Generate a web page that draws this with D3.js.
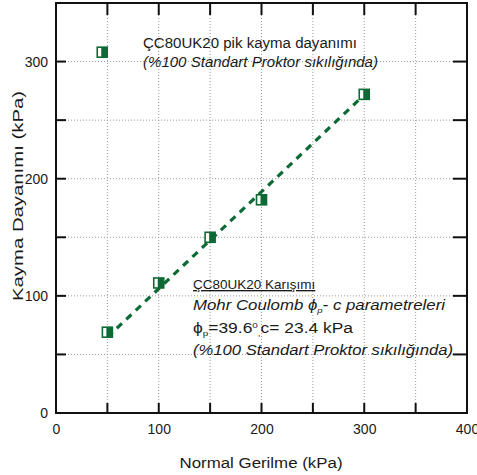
<!DOCTYPE html>
<html>
<head>
<meta charset="utf-8">
<script src="https://cdn.jsdelivr.net/npm/d3@7"></script>
<style>
  body { margin: 0; background: #fff; }
  svg text { font-family: "Liberation Sans", Arial, sans-serif; fill: #1a1a1a; }
</style>
</head>
<body>
<svg id="chart" width="477" height="475"></svg>
<script>
// Direct shear test results: normal stress vs. shear strength (kPa)
const normalStress = [50, 100, 150, 200, 300];
const shearStrength = [69, 111, 150, 182, 272];
// Peak shear strength point shown at the top-left
const peakPoint = [45, 308];
// Mohr-Coulomb fit parameters
const cohesion = 23.4;
const frictionAngle = 39.6;
const fitRange = [50, 300];
const xTicks = [0, 100, 200, 300, 400];
const yTicks = [0, 100, 200, 300];
const gridStep = 50;

const svg = d3.select("#chart");
const m = { left: 56, right: 467, top: 3, bottom: 413 };
const x = d3.scaleLinear().domain([0, 400]).range([m.left, m.right]);
const y = d3.scaleLinear().domain([0, 350]).range([m.bottom, m.top]);
const green = "#0d6a35";

// dotted grid
const gx = d3.range(gridStep, 400, gridStep);
const gy = d3.range(gridStep, 350, gridStep);
svg.append("g").selectAll("line").data(gx).join("line")
  .attr("x1", d => x(d)).attr("x2", d => x(d))
  .attr("y1", m.top).attr("y2", m.bottom)
  .attr("stroke", "#9a9a9a").attr("stroke-width", 1).attr("stroke-dasharray", "1,2");
svg.append("g").selectAll("line").data(gy).join("line")
  .attr("y1", d => y(d)).attr("y2", d => y(d))
  .attr("x1", m.left).attr("x2", m.right)
  .attr("stroke", "#9a9a9a").attr("stroke-width", 1).attr("stroke-dasharray", "1,2");

// inward ticks on all four sides
const tickG = svg.append("g").attr("stroke", "#111").attr("stroke-width", 2);
gx.forEach(v => {
  tickG.append("line").attr("x1", x(v)).attr("x2", x(v)).attr("y1", m.bottom).attr("y2", m.bottom - 10);
  tickG.append("line").attr("x1", x(v)).attr("x2", x(v)).attr("y1", m.top).attr("y2", m.top + 12);
});
gy.forEach(v => {
  tickG.append("line").attr("y1", y(v)).attr("y2", y(v)).attr("x1", m.left).attr("x2", m.left + 10);
  tickG.append("line").attr("y1", y(v)).attr("y2", y(v)).attr("x1", m.right).attr("x2", m.right - 14);
});

// frame
svg.append("rect").attr("x", m.left).attr("y", m.top)
  .attr("width", m.right - m.left).attr("height", m.bottom - m.top)
  .attr("fill", "none").attr("stroke", "#111").attr("stroke-width", 2);

// tick labels
const xAxis = d3.axisBottom(x).tickValues(xTicks).tickSize(0).tickPadding(11);
svg.append("g").attr("transform", `translate(0,${m.bottom})`).call(xAxis)
  .call(g => g.select(".domain").remove())
  .selectAll("text").attr("font-size", 14).attr("fill", "#1a1a1a");
const yAxis = d3.axisLeft(y).tickValues(yTicks).tickSize(0).tickPadding(8);
svg.append("g").attr("transform", `translate(${m.left},0)`).call(yAxis)
  .call(g => g.select(".domain").remove())
  .selectAll("text").attr("font-size", 14).attr("fill", "#1a1a1a");

// axis titles
svg.append("text").attr("x", 261).attr("y", 468).attr("text-anchor", "middle")
  .attr("font-size", 15.5).attr("textLength", 163).attr("lengthAdjust", "spacingAndGlyphs")
  .text("Normal Gerilme (kPa)");
svg.append("text").attr("transform", "translate(23,196) rotate(-90)")
  .attr("text-anchor", "middle").attr("font-size", 15)
  .attr("textLength", 210).attr("lengthAdjust", "spacingAndGlyphs")
  .text("Kayma Dayanımı (kPa)");

// Mohr-Coulomb failure envelope
const tanPhi = Math.tan(frictionAngle * Math.PI / 180);
const fitLine = d3.line().x(d => x(d)).y(d => y(cohesion + tanPhi * d));
svg.append("path").datum(fitRange).attr("d", fitLine)
  .attr("fill", "none").attr("stroke", green).attr("stroke-width", 3.2)
  .attr("stroke-dasharray", "7,6");

// half-filled square markers
function marker(g, cx, cy) {
  const s = 10;
  g.append("rect").attr("x", cx - s / 2).attr("y", cy - s / 2).attr("width", s).attr("height", s)
    .attr("fill", "#fff").attr("stroke", green).attr("stroke-width", 1.6);
  g.append("rect").attr("x", cx - 1).attr("y", cy - s / 2).attr("width", s / 2 + 1).attr("height", s)
    .attr("fill", green);
}
const mg = svg.append("g");
normalStress.forEach((v, i) => marker(mg, x(v), y(shearStrength[i])));
marker(mg, x(peakPoint[0]), y(peakPoint[1]));

// annotations
function label(xp, yp, len, opts = {}) {
  const t = svg.append("text").attr("x", xp).attr("y", yp).attr("font-size", opts.size || 14);
  if (len) t.attr("textLength", len).attr("lengthAdjust", "spacingAndGlyphs");
  if (opts.italic) t.attr("font-style", "italic");
  if (opts.underline) t.attr("text-decoration", "underline");
  return t;
}
label(143, 48, 214).text("ÇC80UK20 pik kayma dayanımı");
label(143, 67, 235, { italic: true }).text("(%100 Standart Proktor sıkılığında)");

const bx = 193;
label(bx, 289, null, { underline: true, size: 13.5 }).text("ÇC80UK20 Karışımı");
const l2 = label(bx, 310, 252, { italic: true });
l2.append("tspan").text("Mohr Coulomb ϕ");
l2.append("tspan").attr("font-size", 8).attr("dy", 3).text("p");
l2.append("tspan").attr("dy", -3).text("- c parametreleri");
const l3 = label(bx, 333, 160);
l3.append("tspan").text("ϕ");
l3.append("tspan").attr("font-size", 8).attr("dy", 3).text("p");
l3.append("tspan").attr("dy", -3).text("=39.6");
l3.append("tspan").attr("font-size", 8).attr("dy", -5).text("0");
l3.append("tspan").attr("font-size", 8).attr("dy", 8).text(",");
l3.append("tspan").attr("dy", -3).text("c= 23.4 kPa");
label(bx, 355, 260, { italic: true }).text("(%100 Standart Proktor sıkılığında)");
</script>
</body>
</html>
